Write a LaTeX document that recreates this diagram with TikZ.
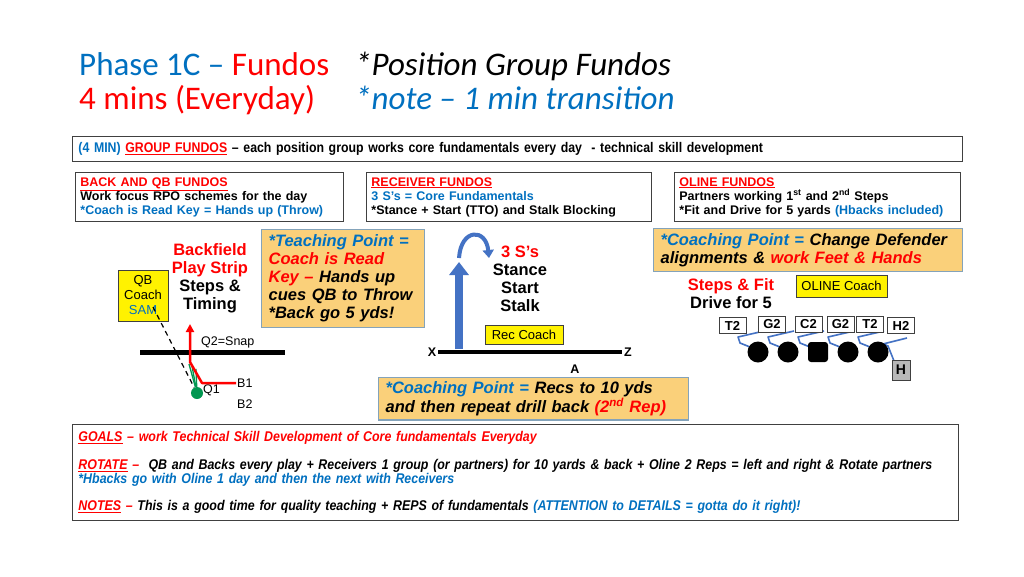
\documentclass[tikz,border=0pt]{standalone}
\usepackage{fontspec}
\setmainfont{Liberation Sans}
\newfontfamily\titlefont{Carlito}
\newfontfamily\narrowfont[FakeStretch=0.88]{Liberation Sans}
\usetikzlibrary{arrows.meta}
\definecolor{fblue}{RGB}{0,112,192}
\definecolor{fred}{RGB}{255,0,0}
\definecolor{tpfill}{RGB}{250,208,122}
\definecolor{tpline}{RGB}{132,163,186}
\definecolor{rblue}{RGB}{68,114,196}
\definecolor{qbgreen}{RGB}{0,150,80}

\begin{document}
\begin{tikzpicture}[x=1pt,y=-1pt,
  title/.style={anchor=base west,inner sep=0pt,font=\titlefont\fontsize{33}{40}\selectfont},
  infobox/.style={draw=black!75,line width=0.8pt,anchor=north west,align=left,inner sep=5pt,font=\bfseries\fontsize{12.5}{14}\selectfont},
  widebox/.style={draw=black!75,line width=0.8pt,anchor=north west,align=left,inner sep=6pt,font=\narrowfont\bfseries\fontsize{14}{14}\selectfont},
  pointbox/.style={draw=tpline,fill=tpfill,line width=1.3pt,anchor=north west,align=left,inner xsep=7pt,inner ysep=4pt,font=\bfseries\itshape\fontsize{16.5}{18}\selectfont},
  bigtxt/.style={align=center,inner sep=0pt,font=\bfseries\fontsize{16.5}{18}\selectfont},
  coachbox/.style={draw=black!75,fill=yellow,inner sep=2pt,align=center,font=\fontsize{13}{15}\selectfont},
  smalltxt/.style={inner sep=1pt,font=\fontsize{12.5}{14}\selectfont},
  spot/.style={inner sep=2pt,font=\bfseries\fontsize{12.5}{14}\selectfont},
  posbox/.style={draw=black!75,fill=white,minimum width=27pt,minimum height=16pt,inner sep=1pt,font=\bfseries\fontsize{13}{14}\selectfont},
  lineman/.style={circle,fill=black,minimum size=21pt,inner sep=0pt},
  block/.style={rblue,line width=1.6pt,line join=round}]
\useasboundingbox[fill=white] (0,0) rectangle (1024,576);

% title
\node[title] (phase) at (79,75) {\textcolor{fblue}{Phase 1C –} \textcolor{fred}{Fundos}};
\node[title] (mins) at (79,109) {\textcolor{fred}{4 mins (Everyday)}};
\node[title] (posgrp) at (355,75) {\itshape *Position Group Fundos};
\node[title] (note) at (355,109) {\itshape\textcolor{fblue}{*note – 1 min transition}};

% boxes across the top
\node[widebox,minimum width=890,minimum height=25,text width=878] (grpbox) at (72,136)
  {\textcolor{fblue}{(4 MIN)} \textcolor{fred}{\underline{GROUP FUNDOS}} – each position group works core fundamentals every day \ - technical skill development};
\node[infobox,minimum width=268,minimum height=49,text width=258] (backbox) at (75,172)
  {\textcolor{fred}{\underline{BACK AND QB FUNDOS}}\\Work focus RPO schemes for the day\\{}\textcolor{fblue}{*Coach is Read Key = Hands up (Throw)}};
\node[infobox,minimum width=285,minimum height=49,text width=275] (recbox) at (366,172)
  {\textcolor{fred}{\underline{RECEIVER FUNDOS}}\\\textcolor{fblue}{3 S’s = Core Fundamentals}\\{}*Stance + Start (TTO) and Stalk Blocking};
\node[infobox,minimum width=286,minimum height=49,text width=276] (olbox) at (674,172)
  {\textcolor{fred}{\underline{OLINE FUNDOS}}\\Partners working 1\textsuperscript{st} and 2\textsuperscript{nd} Steps\\{}*Fit and Drive for 5 yards \textcolor{fblue}{(Hbacks included)}};

% backs and qb
\node[pointbox,minimum width=163,minimum height=98,text width=149] (teach) at (261,229)
  {\textcolor{fblue}{*Teaching Point =}\\\textcolor{fred}{Coach is Read}\\\textcolor{fred}{Key –} Hands up\\cues QB to Throw\\{}*Back go 5 yds!};
\node[bigtxt] (strip) at (210,278) {\textcolor{fred}{Backfield}\\\textcolor{fred}{Play Strip}\\Steps \&\\Timing};
\node[coachbox,minimum width=50,minimum height=51] (qbc) at (143,295.5) {QB\\Coach\\\textcolor{fblue}{SAM}};
\draw[line width=5pt] (140,352) -- (285,352);
\node[smalltxt,anchor=west] (snap) at (200,342) {Q2=Snap};
\node[circle,fill=qbgreen,minimum size=12pt,inner sep=0pt] (qb) at (197,393) {};
\node[smalltxt,anchor=west] (q1) at (202,390) {Q1};
\node[smalltxt,anchor=west] (b1) at (236,383) {B1};
\node[smalltxt,anchor=west] (b2) at (236,404) {B2};
\foreach \gx/\gy in {189/364,192/366,196/369}
  \draw[qbgreen,line width=1.3pt] (qb) -- (\gx,\gy);
\draw[fred,line width=2.5pt,line join=round,-{Triangle[width=8pt,length=8pt]}] (b1.west) -- (202,383) -- (190,362) -- (190,324);
\coordinate (samread) at (153,307);
\draw[dash pattern=on 5pt off 4pt,line width=1.2pt] (samread) -- (qb);

% receivers
\coordinate (rbase) at (459,349);
\coordinate (rtop) at (459,262);
\draw[rblue,line width=8pt,-{Triangle[width=19pt,length=13pt]}] (rbase) -- (rtop);
\draw[rblue,line width=4pt,-{Triangle[width=11pt,length=8pt]}] (459,258) .. controls (461,228) and (486,228) .. (489,258);
\node[bigtxt] (sss) at (520,279) {\textcolor{fred}{3 S’s}\\Stance\\Start\\Stalk};
\node[coachbox,minimum width=78,minimum height=19] (recc) at (524,334.5) {Rec Coach};
\node[spot] (xrec) at (432,352) {X};
\node[spot] (zrec) at (628,352) {Z};
\node[spot] (arec) at (575,369) {A};
\draw[line width=4.5pt] (xrec) -- (zrec);
\node[pointbox,minimum width=310,minimum height=42,text width=296] (recpoint) at (378,377)
  {\textcolor{fblue}{*Coaching Point =} Recs to 10 yds\\and then repeat drill back \textcolor{fred}{(2\textsuperscript{nd} Rep)}};

% oline
\node[pointbox,minimum width=309,minimum height=43,text width=295] (olpoint) at (653,228)
  {\textcolor{fblue}{*Coaching Point =} Change Defender\\alignments \& \textcolor{fred}{work Feet \& Hands}};
\node[bigtxt] (fit) at (731,294) {\textcolor{fred}{Steps \& Fit}\\Drive for 5};
\node[coachbox,minimum width=91,minimum height=22] (olc) at (841.5,286) {OLINE Coach};
\foreach \px in {758,788,818,848,878}
  \draw[block] (\px-8,347) -- (\px-18,343) -- (\px-20,337) -- (\px+6,331);
\draw[block] (894,361) -- (888,346) -- (883,344) -- (907,338);
\foreach \px/\nm in {758/lt,788/lg,848/rg,878/rt}
  \node[lineman] (\nm) at (\px,352) {};
\node[fill=black,rounded corners=3pt,minimum size=20pt,inner sep=0pt] (oc) at (818,352) {};
\node[draw=black!75,fill=black!28,minimum width=18,minimum height=20,inner sep=0pt,font=\bfseries\fontsize{14}{14}\selectfont] (hback) at (901,370) {H};
\foreach \px/\py/\lbl/\nm in {732.5/325.5/T2/dlt,772/324/G2/dlg,808.5/324/C2/dc,840.5/324/G2/drg,870/324/T2/drt,901/325.5/H2/dh}
  \node[posbox] (\nm) at (\px,\py) {\lbl};

% goals box
\node[widebox,font=\narrowfont\bfseries\itshape\fontsize{14.1}{14}\selectfont,minimum width=886,minimum height=96,text width=874] (goals) at (72,424)
  {\textcolor{fred}{\underline{GOALS} – work Technical Skill Development of Core fundamentals Everyday}\\[14pt]
   \textcolor{fred}{\underline{ROTATE} –}\ \ QB and Backs every play + Receivers 1 group (or partners) for 10 yards \& back + Oline 2 Reps = left and right \& Rotate partners\\
   \textcolor{fblue}{*Hbacks go with Oline 1 day and then the next with Receivers}\\[13pt]
   \textcolor{fred}{\underline{NOTES} –} This is a good time for quality teaching + REPS of fundamentals \textcolor{fblue}{(ATTENTION to DETAILS = gotta do it right)!}};
\end{tikzpicture}
\end{document}
